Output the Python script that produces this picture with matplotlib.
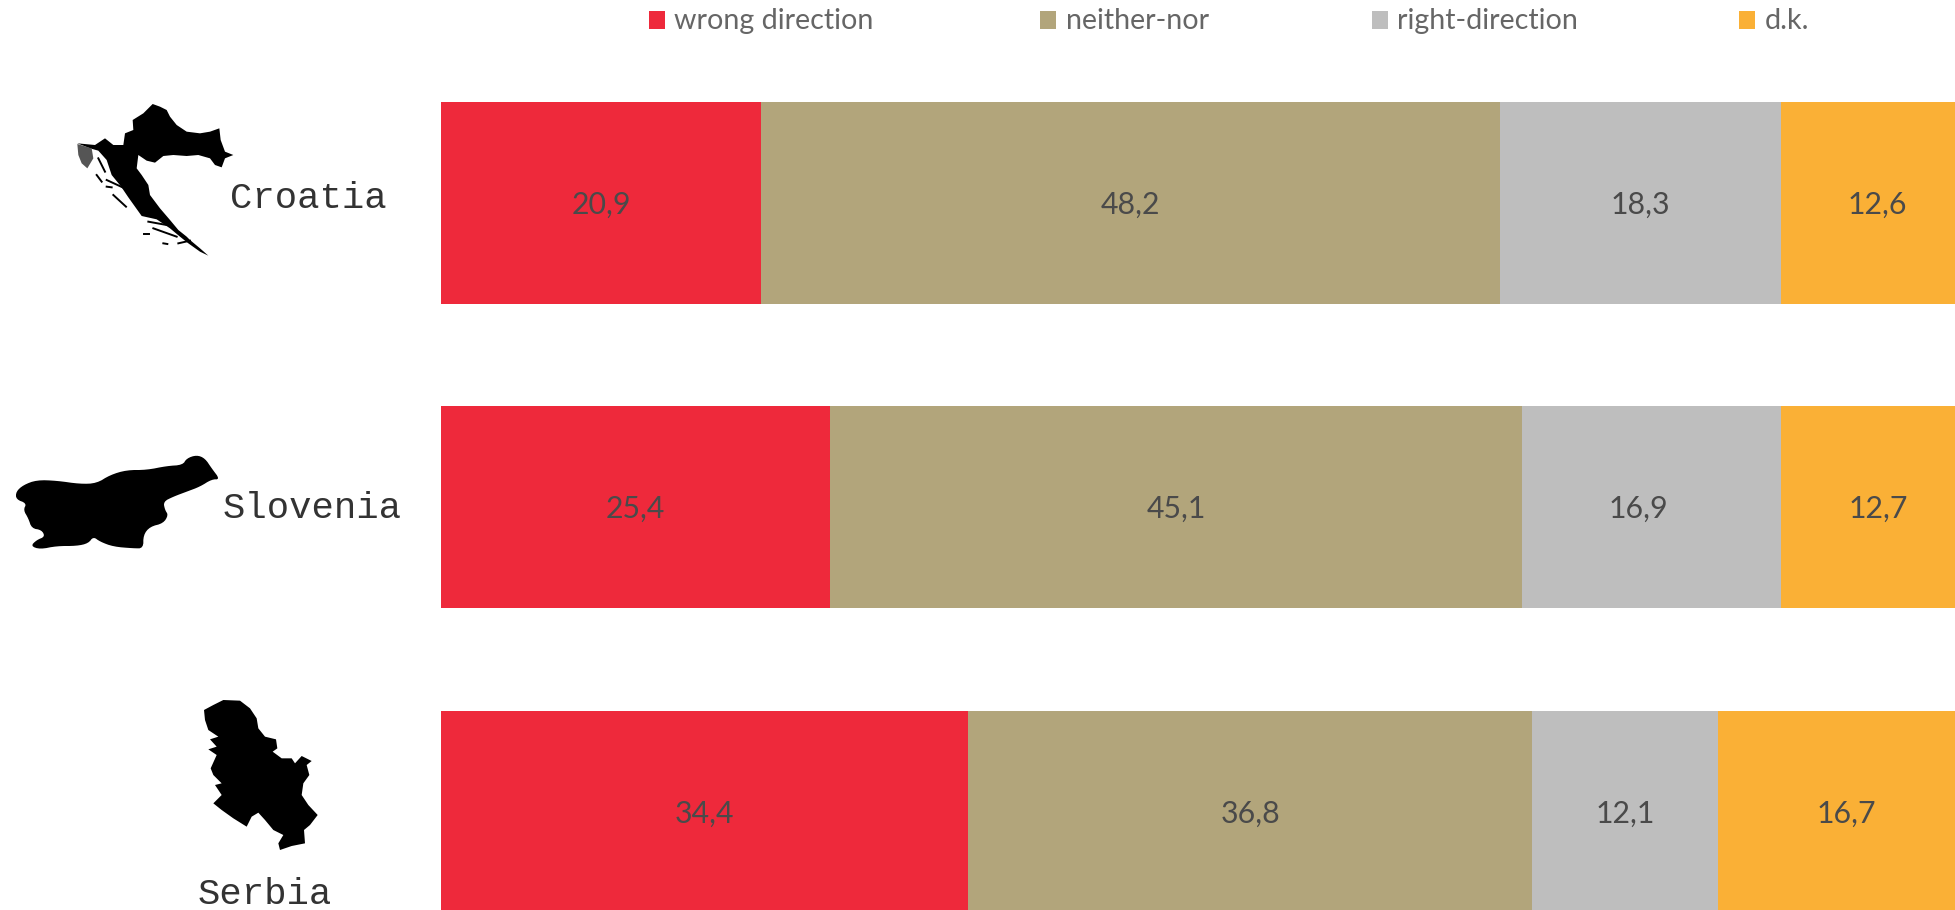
import numpy as np
from matplotlib import pyplot as plt
from matplotlib.patches import Polygon, Rectangle

# -- INPUT --
countries = ['Croatia', 'Slovenia', 'Serbia']
series = ['wrong direction', 'neither-nor', 'right-direction', 'd.k.']
wrong = [20.9, 25.4, 34.4]
neither = [48.2, 45.1, 36.8]
right = [18.3, 16.9, 12.1]
dk = [12.6, 12.7, 16.7]
colors = ['#EE293B', '#B2A57B', '#BEBEBE', '#FAB036']
# -- FIN INPUT --

croatia_map = [(458, 72), (480, 80), (500, 90), (510, 110), (530, 135), (560, 155), (600, 160), (630, 155), (658, 145),
               (662, 180), (675, 215), (700, 225), (675, 235), (665, 262), (645, 255), (630, 235), (595, 225), (560, 228),
               (520, 225), (490, 228), (465, 248), (440, 242), (415, 225), (410, 265), (425, 285), (445, 315), (450, 345),
               (480, 385), (510, 420), (535, 450), (560, 470), (570, 480), (600, 505), (625, 527), (600, 515), (565, 490),
               (540, 470), (510, 445), (470, 418), (425, 408), (385, 352), (362, 318), (335, 285), (320, 240), (295, 212),
               (270, 205), (232, 190), (285, 195), (315, 175), (340, 195), (370, 195), (375, 160), (400, 150), (398, 120),
               (430, 100)]
istria_map = [(232, 192), (275, 205), (280, 235), (262, 265), (245, 250), (235, 225)]
croatia_islands = [[(295, 235), (315, 275)], [(320, 300), (385, 330)], [(340, 345), (378, 380)], [(445, 425), (500, 435)],
                   [(460, 445), (530, 470)], [(432, 462), (448, 462)], [(490, 490), (502, 492)], [(535, 490), (570, 482)],
                   [(290, 285), (305, 305)], [(320, 320), (335, 322)]]
slovenia_map = [(48, 215), (70, 195), (110, 180), (170, 182), (240, 192), (290, 190), (330, 165), (380, 150), (440, 150),
                (500, 138), (548, 135), (560, 115), (590, 105), (615, 115), (635, 145), (660, 178), (635, 178), (600, 200),
                (560, 215), (520, 230), (490, 245), (495, 270), (505, 285), (490, 310), (450, 320), (430, 345), (430, 385),
                (400, 385), (340, 380), (300, 365), (280, 350), (265, 370), (230, 378), (170, 378), (120, 388), (92, 378),
                (110, 360), (135, 350), (125, 330), (95, 325), (85, 295), (70, 270), (80, 250), (48, 238)]
serbia_map = [(162, 90), (190, 75), (220, 60), (270, 62), (300, 85), (320, 115), (325, 145), (345, 170), (378, 178),
              (382, 205), (368, 215), (395, 235), (425, 235), (435, 250), (455, 228), (485, 243), (470, 255), (478, 285),
              (460, 310), (455, 345), (475, 375), (503, 405), (480, 435), (462, 450), (465, 490), (425, 498), (390, 510),
              (385, 490), (400, 465), (370, 450), (345, 420), (325, 398), (305, 410), (290, 440), (250, 415), (215, 390),
              (190, 370), (205, 355), (215, 345), (195, 315), (215, 310), (190, 285), (182, 265), (200, 225), (175, 208),
              (200, 200), (180, 178), (205, 170), (175, 150), (165, 120)]


def zoom_2_px(points, x0, y0):
    # pasa los puntos del recorte (x3) a pixeles de la figura
    pts = np.array(points, dtype=float) / 3
    return pts + [x0, y0]


def suavizar(pts, n=2):
    # corte de esquinas, Eslovenia tiene el borde suave en el original
    for _ in range(n):
        sig = np.roll(pts, -1, axis=0)
        pts = np.vstack([np.column_stack([0.75 * pts[k] + 0.25 * sig[k], 0.25 * pts[k] + 0.75 * sig[k]]).T
                         for k in range(len(pts))])
    return pts


W, H = 1956, 910
fig = plt.figure(figsize=(W / 100, H / 100), dpi=100, facecolor='white')

# barras: 15.33 px por unidad, la barra se corta en el borde derecho igual que el original
x_left = 441
ax = fig.add_axes([x_left / W, 0, 1 - x_left / W, 1])
pitch = 304.5
y0 = 202.5
ax.set_xlim(0, (W - x_left) / 15.33)
ax.set_ylim((H - y0) / pitch, -y0 / pitch)
ax.axis('off')

label_shift = {(1, 2): -0.85}  # la etiqueta 16,9 no esta centrada en el original
ypos = np.arange(len(countries))
left = np.zeros(len(countries))
for j, vals in enumerate([wrong, neither, right, dk]):
    ax.barh(ypos, vals, left=left, height=202 / pitch, color=colors[j], linewidth=0)
    for i, v in enumerate(vals):
        xc = left[i] + v / 2 + label_shift.get((i, j), 0)
        ax.text(xc, ypos[i] + 0.006, f'{v:.1f}'.replace('.', ','), ha='center', va='center',
                fontsize=21.8, color='#4A4A4A', family='Lato')
    left = left + np.array(vals)

# capa en pixeles para leyenda, nombres y mapas
px = fig.add_axes([0, 0, 1, 1])
px.set_xlim(0, W)
px.set_ylim(H, 0)
px.axis('off')
px.patch.set_alpha(0)

legend_box = [649, 1040, 1372, 1739]
legend_txt = [674, 1066, 1397, 1765]
for j, name in enumerate(series):
    px.add_patch(Rectangle((legend_box[j], 11), 16, 18, color=colors[j], linewidth=0))
    px.text(legend_txt[j], 21, name, ha='left', va='center', fontsize=20.6, color='#666666', family='Lato')

name_x = [230, 223, 198]
name_y = [198, 509, 895]
for i, name in enumerate(countries):
    px.text(name_x[i], name_y[i], name, ha='left', va='center', fontsize=26.8, color='#333333', family='Liberation Mono')

px.add_patch(Polygon(zoom_2_px(croatia_map, 0, 80), color='black', linewidth=0))
px.add_patch(Polygon(zoom_2_px(istria_map, 0, 80), color='#555555', linewidth=0))
for isl in croatia_islands:
    p = zoom_2_px(isl, 0, 80)
    px.plot(p[:, 0], p[:, 1], color='black', linewidth=1.4)
px.add_patch(Polygon(suavizar(zoom_2_px(slovenia_map, 0, 420)), color='black', linewidth=0))
px.add_patch(Polygon(zoom_2_px(serbia_map, 150, 680), color='black', linewidth=0))

fig.savefig('out.png', dpi=100)
